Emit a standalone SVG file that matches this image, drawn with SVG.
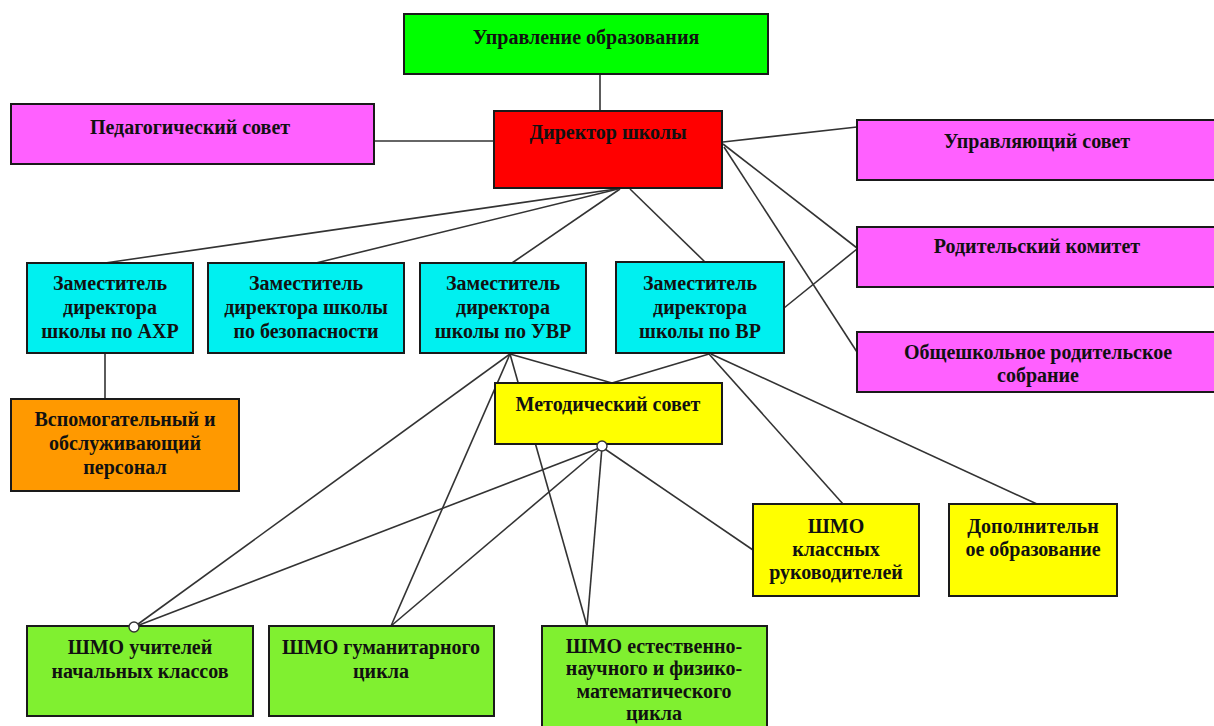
<svg xmlns="http://www.w3.org/2000/svg" width="1214" height="726" viewBox="0 0 1214 726">
<style>
.b{stroke:#1a1a1a;stroke-width:2}
.t{font-family:"Liberation Serif","Times New Roman",serif;font-weight:bold;font-size:20px;fill:#111;text-anchor:middle}
.c{stroke:#333;stroke-width:1.6;fill:none}
.green{fill:#00FF00}.mag{fill:#FF60FF}.red{fill:#FF0000}.cyan{fill:#00F0F0}.orange{fill:#FF9900}.yellow{fill:#FFFF00}.lg{fill:#80F030}
</style>
<rect width="1214" height="726" fill="#fff"/>
<g id="connectors">
<line class="c" x1="600" y1="74" x2="600" y2="111"/>
<line class="c" x1="374" y1="141" x2="494" y2="141"/>
<line class="c" x1="616" y1="189" x2="105" y2="263"/>
<line class="c" x1="618" y1="189" x2="316" y2="263"/>
<line class="c" x1="620" y1="189" x2="512" y2="263"/>
<line class="c" x1="630" y1="189" x2="706" y2="263"/>
<line class="c" x1="723" y1="142" x2="857" y2="127"/>
<line class="c" x1="723" y1="144" x2="857" y2="248"/>
<line class="c" x1="724" y1="147" x2="857" y2="352"/>
<line class="c" x1="784" y1="308" x2="857" y2="249"/>
<line class="c" x1="105" y1="353" x2="105" y2="399"/>
<line class="c" x1="510" y1="354" x2="612" y2="383"/>
<line class="c" x1="709" y1="354" x2="612" y2="383"/>
<line class="c" x1="510" y1="354" x2="134" y2="627"/>
<line class="c" x1="510" y1="354" x2="391" y2="626"/>
<line class="c" x1="510" y1="354" x2="587" y2="626"/>
<line class="c" x1="602" y1="447" x2="134" y2="627"/>
<line class="c" x1="602" y1="447" x2="391" y2="626"/>
<line class="c" x1="602" y1="447" x2="587" y2="626"/>
<line class="c" x1="602" y1="447" x2="753" y2="550"/>
<line class="c" x1="709" y1="354" x2="843" y2="504"/>
<line class="c" x1="711" y1="354" x2="1037" y2="504"/>
</g>
<g id="n-upravlenie"><rect class="b green" x="404" y="14" width="364" height="60"/><text class="t" x="586" y="44">Управление образования</text></g>
<g id="n-pedsovet"><rect class="b mag" x="11" y="104" width="363" height="60"/><text class="t" x="190" y="134">Педагогический совет</text></g>
<g id="n-director"><rect class="b red" x="494" y="111" width="228" height="77"/><text class="t" x="608" y="139">Директор школы</text></g>
<g id="n-uprsovet"><rect class="b mag" x="857" y="120" width="360" height="60"/><text class="t" x="1037" y="148">Управляющий совет</text></g>
<g id="n-rodkom"><rect class="b mag" x="857" y="227" width="360" height="60"/><text class="t" x="1037" y="253">Родительский комитет</text></g>
<g id="n-sobranie"><rect class="b mag" x="857" y="332" width="360" height="60"/><text class="t" x="1038" y="359">Общешкольное родительское</text><text class="t" x="1038" y="382">собрание</text></g>
<g id="n-axr"><rect class="b cyan" x="27" y="263" width="166" height="90"/><text class="t" x="110" y="290">Заместитель</text><text class="t" x="110" y="314">директора</text><text class="t" x="110" y="338">школы по АХР</text></g>
<g id="n-bez"><rect class="b cyan" x="208" y="263" width="196" height="90"/><text class="t" x="306" y="290">Заместитель</text><text class="t" x="306" y="314">директора школы</text><text class="t" x="306" y="338">по безопасности</text></g>
<g id="n-uvr"><rect class="b cyan" x="420" y="263" width="166" height="90"/><text class="t" x="503" y="290">Заместитель</text><text class="t" x="503" y="314">директора</text><text class="t" x="503" y="338">школы по УВР</text></g>
<g id="n-vr"><rect class="b cyan" x="616" y="262" width="168" height="91"/><text class="t" x="700" y="290">Заместитель</text><text class="t" x="700" y="314">директора</text><text class="t" x="700" y="338">школы по ВР</text></g>
<g id="n-vspom"><rect class="b orange" x="11" y="399" width="228" height="92"/><text class="t" x="125" y="426">Вспомогательный и</text><text class="t" x="125" y="450">обслуживающий</text><text class="t" x="125" y="474">персонал</text></g>
<g id="n-metod"><rect class="b yellow" x="495" y="383" width="227" height="61"/><text class="t" x="608" y="411">Методический совет</text></g>
<g id="n-klass"><rect class="b yellow" x="753" y="504" width="166" height="92"/><text class="t" x="836" y="533">ШМО</text><text class="t" x="836" y="556">классных</text><text class="t" x="836" y="579">руководителей</text></g>
<g id="n-dop"><rect class="b yellow" x="949" y="504" width="168" height="92"/><text class="t" x="1033" y="533">Дополнительн</text><text class="t" x="1033" y="556">ое образование</text></g>
<g id="n-nach"><rect class="b lg" x="27" y="626" width="226" height="90"/><text class="t" x="140" y="654">ШМО учителей</text><text class="t" x="140" y="678">начальных классов</text></g>
<g id="n-gum"><rect class="b lg" x="269" y="626" width="225" height="90"/><text class="t" x="381" y="654">ШМО гуманитарного</text><text class="t" x="381" y="678">цикла</text></g>
<g id="n-est"><rect class="b lg" x="542" y="626" width="225" height="110"/><text class="t" x="654" y="653">ШМО естественно-</text><text class="t" x="654" y="675">научного и физико-</text><text class="t" x="654" y="698">математического</text><text class="t" x="654" y="720">цикла</text></g>
<g id="junctions">
<circle cx="602" cy="446" r="5" fill="#fff" stroke="#333" stroke-width="1.4"/>
<circle cx="134" cy="627" r="5" fill="#fff" stroke="#333" stroke-width="1.4"/>
</g>
</svg>
